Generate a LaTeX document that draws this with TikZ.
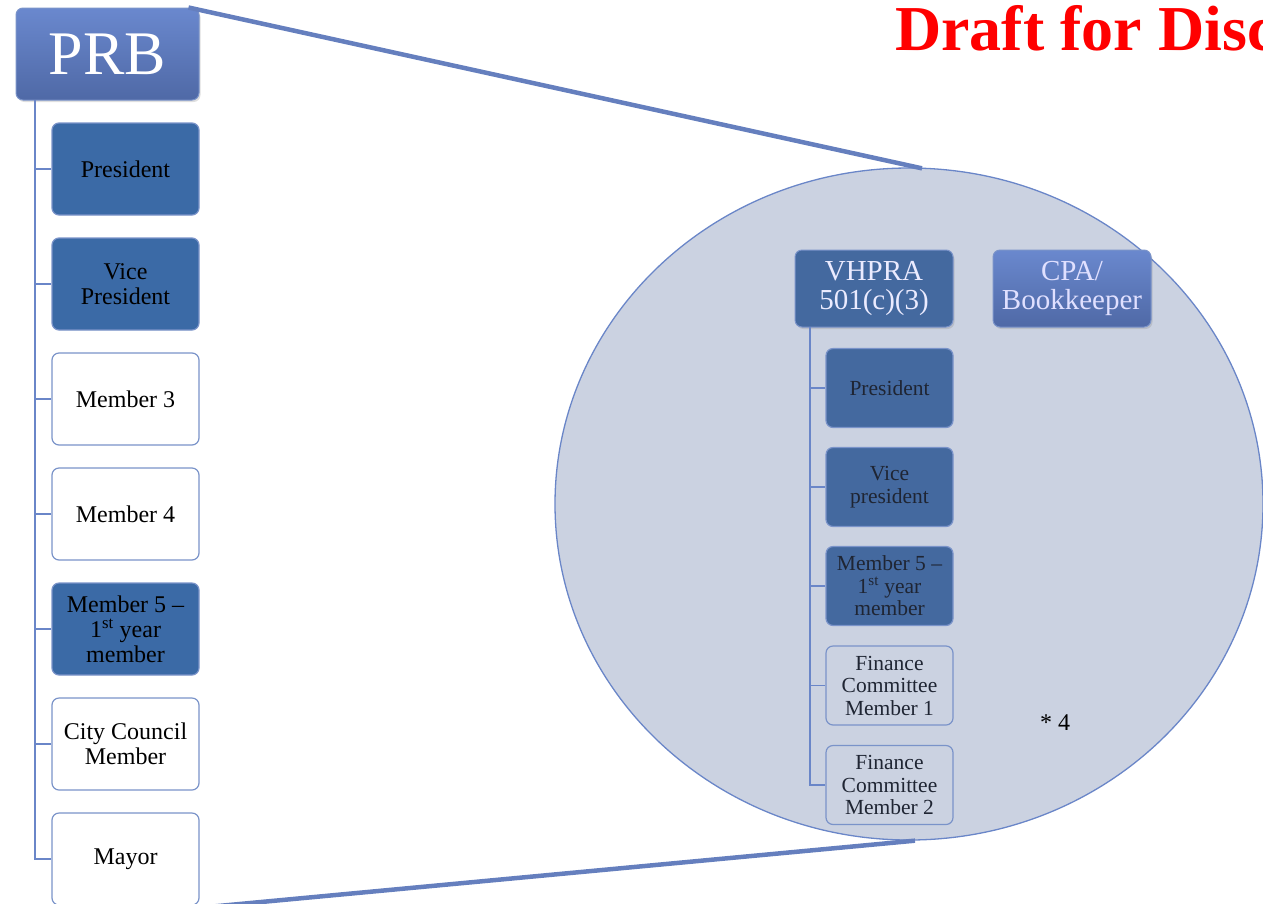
\documentclass[tikz,border=0pt]{standalone}
\usepackage{fontspec}
\setmainfont{Liberation Serif}
\usetikzlibrary{shapes.geometric,shadows}

\definecolor{topblue}{HTML}{6A88CE}
\definecolor{botblue}{HTML}{4F69A6}
\definecolor{boxblue}{HTML}{3B6AA6}
\definecolor{inblue}{HTML}{44699F}
\definecolor{edgeblue}{HTML}{7A93C9}
\definecolor{ringblue}{HTML}{6A86C8}
\definecolor{bubble}{HTML}{CBD2E1}
\definecolor{inktext}{HTML}{1F2533}

\begin{document}
\begin{tikzpicture}[x=1pt,y=-1pt]
    \tikzstyle{head}=[rectangle,rounded corners=7pt,draw=edgeblue,line width=1pt,top color=topblue,bottom color=botblue,text=white,align=center,inner sep=0pt,drop shadow={opacity=0.25,shadow xshift=1.5pt,shadow yshift=-2pt}]
    \tikzstyle{member}=[rectangle,rounded corners=7pt,draw=edgeblue,line width=1.2pt,fill=white,text=black,align=center,inner sep=0pt,minimum width=147pt,minimum height=92pt,font=\fontsize{24}{25}\selectfont]
    \tikzstyle{officer}=[member,fill=boxblue]
    \tikzstyle{sub}=[member,minimum width=127pt,minimum height=79pt,fill=bubble,text=inktext,font=\fontsize{21.5}{22.5}\selectfont]
    \tikzstyle{suboff}=[sub,fill=inblue]
    \tikzstyle{link}=[draw=ringblue,line width=1.6pt]
    \tikzstyle{zoomline}=[draw=ringblue!95!black,line width=4.5pt]

    \useasboundingbox (0,0) rectangle (1263,903);
    \clip (0,0) rectangle (1263,903);

        \node[ellipse,draw=ringblue,line width=1.3pt,fill=bubble,minimum width=708pt,minimum height=672pt,inner sep=0pt] (Z) at (909,504){};

        \node[head,minimum width=183pt,minimum height=92pt,font=\fontsize{62}{62}\selectfont] (PRB) at (107.5,54){PRB};

        \node[officer] (P-1) at (125.5,169){President};
        \node[officer] (P-2) at (125.5,284){Vice\\President};
        \node[member] (P-3) at (125.5,399){Member 3};
        \node[member] (P-4) at (125.5,514){Member 4};
        \node[officer] (P-5) at (125.5,629){Member 5 --\\1\textsuperscript{st} year\\member};
        \node[member] (P-6) at (125.5,744){City Council\\Member};
        \node[member] (P-7) at (125.5,859){Mayor};

        \coordinate (S) at (35,100);
        \draw[link] (S) |- (P-7.west);
        \foreach \i in {1,...,6}
            \draw[link] (S |- P-\i.west) -- (P-\i.west);

        \node[head,top color=inblue,bottom color=inblue,text=white!92!blue,minimum width=158pt,minimum height=77pt,font=\fontsize{29}{29}\selectfont] (VH) at (874,288.5){VHPRA\\501(c)(3)};
        \node[head,text=white!88!blue,minimum width=158pt,minimum height=77pt,font=\fontsize{29}{29}\selectfont] (CPA) at (1072,288.5){CPA/\\Bookkeeper};

        \node[suboff] (F-1) at (889.5,388){President};
        \node[suboff] (F-2) at (889.5,487){Vice\\president};
        \node[suboff] (F-3) at (889.5,586){Member 5 --\\1\textsuperscript{st} year\\member};
        \node[sub] (F-4) at (889.5,685.5){Finance\\Committee\\Member 1};
        \node[sub] (F-5) at (889.5,785){Finance\\Committee\\Member 2};

        \coordinate (T) at (810,327);
        \draw[link,line width=1.4pt] (T) |- (F-5.west);
        \foreach \i in {1,...,4}
            \draw[link,line width=1.4pt] (T |- F-\i.west) -- (F-\i.west);

        \node[font=\fontsize{24}{24}\selectfont] (star) at (1055,723){* 4};

        \draw[zoomline] ([xshift=-11pt]PRB.north east) -- ([xshift=13pt,yshift=-1pt]Z.north);
        \draw[zoomline] ([xshift=-9pt,yshift=-3pt]P-7.south east) -- ([xshift=6pt]Z.south);

        \node[anchor=base west,text=red,font=\bfseries\fontsize{64}{64}\selectfont,inner sep=0pt] (draft) at (895,50){Draft for Disc};
\end{tikzpicture}
\end{document}
